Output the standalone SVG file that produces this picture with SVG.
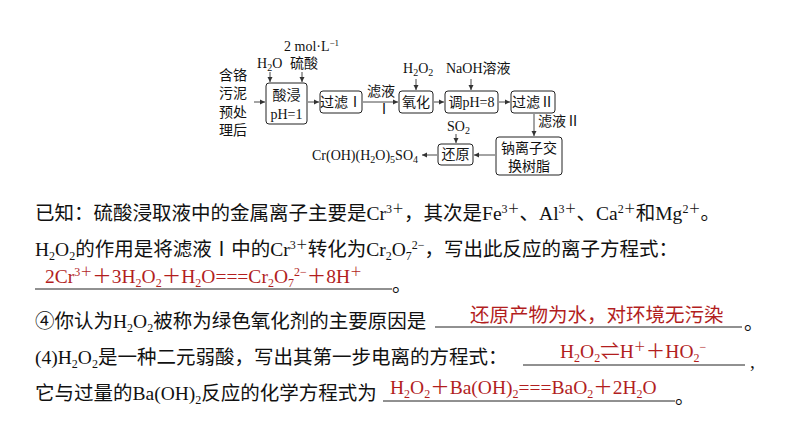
<svg xmlns="http://www.w3.org/2000/svg" width="794" height="447" viewBox="0 0 794 447">
<style>
.f{font-family:"Liberation Serif","Noto Sans CJK SC",serif;font-size:14px;fill:#111}
.t{font-family:"Liberation Serif","Noto Sans CJK SC",serif;font-size:19.5px;fill:#111}
.r{font-family:"Liberation Serif","Noto Sans CJK SC",serif;font-size:19.5px;fill:#b21e1e}
.b{fill:#fff;stroke:#222;stroke-width:1;rx:3}
.c line,.c path{stroke:#333;stroke-width:0.9;fill:none;marker-end:url(#a)}
.u{stroke:#222;stroke-width:1}
</style>
<defs><marker id="a" markerWidth="6" markerHeight="6" refX="5" refY="3" orient="auto" markerUnits="userSpaceOnUse"><path d="M0,0.5 L5,3 L0,5.5z" fill="#333"/></marker></defs>
<rect width="794" height="447" fill="#fff"/>
<g id="start"><text class="f" x="219" y="80">含铬</text><text class="f" x="219" y="98">污泥</text><text class="f" x="219" y="117">预处</text><text class="f" x="219" y="135">理后</text></g>
<g id="n1"><rect class="b" x="266" y="83" width="41" height="41"/><text class="f" x="286.5" y="100" text-anchor="middle">酸浸</text><text class="f" x="286.5" y="119" text-anchor="middle">pH=1</text></g>
<g id="n2"><rect class="b" x="320" y="91" width="42" height="22"/><text class="f" x="341" y="107" text-anchor="middle">过滤Ⅰ</text></g>
<g id="n3"><rect class="b" x="399" y="91" width="34" height="22"/><text class="f" x="416" y="107" text-anchor="middle">氧化</text></g>
<g id="n4"><rect class="b" x="445" y="91" width="53" height="22"/><text class="f" x="471.5" y="107" text-anchor="middle">调pH=8</text></g>
<g id="n5"><rect class="b" x="511" y="91" width="44" height="22"/><text class="f" x="533" y="107" text-anchor="middle">过滤Ⅱ</text></g>
<g id="n6"><rect class="b" x="496" y="137" width="66" height="38"/><text class="f" x="529" y="153" text-anchor="middle">钠离子交</text><text class="f" x="529" y="171" text-anchor="middle">换树脂</text></g>
<g id="n7"><rect class="b" x="438" y="144" width="35" height="21"/><text class="f" x="455.5" y="159" text-anchor="middle">还原</text></g>
<g id="product"><text class="f" x="418" y="160" text-anchor="end">Cr(OH)(H<tspan font-size="10" dy="3">2</tspan><tspan dy="-3">O)</tspan><tspan font-size="10" dy="3">5</tspan><tspan dy="-3">SO</tspan><tspan font-size="10" dy="3">4</tspan></text></g>
<g id="labels">
<text class="f" x="284" y="51">2 mol·L<tspan font-size="9" dy="-5">−1</tspan></text>
<text class="f" x="257" y="68">H<tspan font-size="10" dy="3">2</tspan><tspan dy="-3">O</tspan></text>
<text class="f" x="290" y="68">硫酸</text>
<text class="f" x="403" y="73">H<tspan font-size="10" dy="3">2</tspan><tspan dy="-3">O</tspan><tspan font-size="10" dy="3">2</tspan></text>
<text class="f" x="446" y="73">NaOH溶液</text>
<text class="f" x="367" y="96">滤液</text>
<text class="f" x="377" y="114">Ⅰ</text>
<text class="f" x="447" y="131">SO<tspan font-size="10" dy="3">2</tspan></text>
<text class="f" x="538" y="126">滤液Ⅱ</text>
</g>
<g class="c" id="connectors">
<line x1="254" y1="102" x2="265" y2="102"/>
<line x1="270" y1="72" x2="270" y2="82"/>
<line x1="302" y1="72" x2="302" y2="82"/>
<line x1="308" y1="102" x2="319" y2="102"/>
<line x1="363" y1="102" x2="398" y2="102"/>
<line x1="416" y1="79" x2="416" y2="90"/>
<line x1="471" y1="79" x2="471" y2="90"/>
<line x1="434" y1="102" x2="444" y2="102"/>
<line x1="499" y1="102" x2="510" y2="102"/>
<line x1="534" y1="114" x2="534" y2="136"/>
<line x1="456" y1="134" x2="456" y2="143"/>
<line x1="495" y1="155" x2="474" y2="155"/>
<line x1="437" y1="155" x2="422" y2="155"/>
</g>
<g id="text">
<text class="t" x="35" y="220">已知：硫酸浸取液中的金属离子主要是Cr<tspan font-size="12" dy="-7">3＋</tspan><tspan dy="7">，其次是Fe</tspan><tspan font-size="12" dy="-7">3＋</tspan><tspan dy="7">、Al</tspan><tspan font-size="12" dy="-7">3＋</tspan><tspan dy="7">、Ca</tspan><tspan font-size="12" dy="-7">2＋</tspan><tspan dy="7">和Mg</tspan><tspan font-size="12" dy="-7">2＋</tspan><tspan dy="7">。</tspan></text>
<text class="t" x="35" y="256">H<tspan font-size="12" dy="4">2</tspan><tspan dy="-4">O</tspan><tspan font-size="12" dy="4">2</tspan><tspan dy="-4">的作用是将滤液Ⅰ中的Cr</tspan><tspan font-size="12" dy="-7">3＋</tspan><tspan dy="7">转化为Cr</tspan><tspan font-size="12" dy="4">2</tspan><tspan dy="-4">O</tspan><tspan font-size="12" dy="4">7</tspan><tspan font-size="12" dy="-11">2−</tspan><tspan dy="7">，写出此反应的离子方程式：</tspan></text>
<text class="r" x="45" y="283">2Cr<tspan font-size="12" dy="-7">3＋</tspan><tspan dy="7">＋3H</tspan><tspan font-size="12" dy="4">2</tspan><tspan dy="-4">O</tspan><tspan font-size="12" dy="4">2</tspan><tspan dy="-4">＋H</tspan><tspan font-size="12" dy="4">2</tspan><tspan dy="-4">O===Cr</tspan><tspan font-size="12" dy="4">2</tspan><tspan dy="-4">O</tspan><tspan font-size="12" dy="4">7</tspan><tspan font-size="12" dy="-11">2−</tspan><tspan dy="7">＋8H</tspan><tspan font-size="12" dy="-7">＋</tspan></text>
<line class="u" x1="35" y1="289" x2="392" y2="289"/><text class="t" x="392" y="292">。</text>
<text class="t" x="35" y="328">④你认为H<tspan font-size="12" dy="4">2</tspan><tspan dy="-4">O</tspan><tspan font-size="12" dy="4">2</tspan><tspan dy="-4">被称为绿色氧化剂的主要原因是</tspan></text>
<text class="r" x="470" y="322">还原产物为水，对环境无污染</text>
<line class="u" x1="435" y1="327" x2="742" y2="327"/><text class="t" x="744" y="330">。</text>
<text class="t" x="35" y="364">(4)H<tspan font-size="12" dy="4">2</tspan><tspan dy="-4">O</tspan><tspan font-size="12" dy="4">2</tspan><tspan dy="-4">是一种二元弱酸，写出其第一步电离的方程式：</tspan></text>
<text class="r" x="560" y="358">H<tspan font-size="12" dy="4">2</tspan><tspan dy="-4">O</tspan><tspan font-size="12" dy="4">2</tspan><tspan dy="-4">⇌H</tspan><tspan font-size="12" dy="-7">＋</tspan><tspan dy="7">＋HO</tspan><tspan font-size="12" dy="4">2</tspan><tspan font-size="12" dy="-11">−</tspan></text>
<line class="u" x1="523" y1="365" x2="745" y2="365"/><text class="t" x="750" y="368">,</text>
<text class="t" x="35" y="400">它与过量的Ba(OH)<tspan font-size="12" dy="4">2</tspan><tspan dy="-4">反应的化学方程式为</tspan></text>
<text class="r" x="390" y="394">H<tspan font-size="12" dy="4">2</tspan><tspan dy="-4">O</tspan><tspan font-size="12" dy="4">2</tspan><tspan dy="-4">＋Ba(OH)</tspan><tspan font-size="12" dy="4">2</tspan><tspan dy="-4">===BaO</tspan><tspan font-size="12" dy="4">2</tspan><tspan dy="-4">＋2H</tspan><tspan font-size="12" dy="4">2</tspan><tspan dy="-4">O</tspan></text>
<line class="u" x1="383" y1="401" x2="675" y2="401"/><text class="t" x="675" y="404">。</text>
</g>
</svg>
